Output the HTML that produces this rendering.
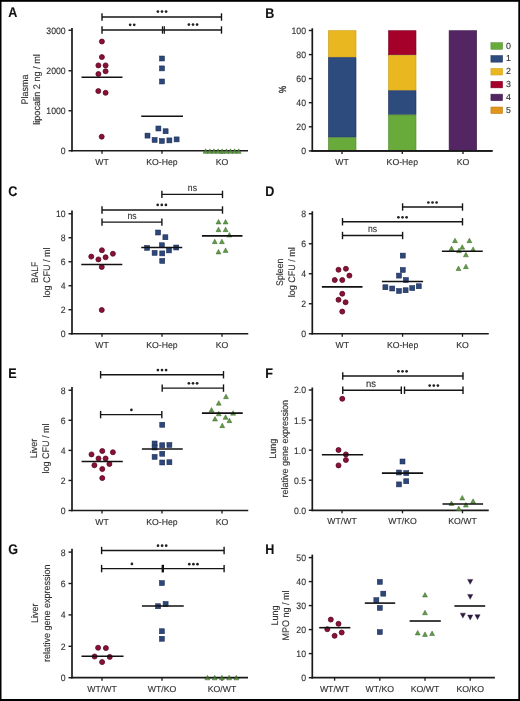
<!DOCTYPE html>
<html><head><meta charset="utf-8"><title>Figure</title>
<style>
html,body{margin:0;padding:0;background:#fff;}
body{width:520px;height:701px;overflow:hidden;}
svg{display:block;will-change:transform;}
text{font-family:"Liberation Sans", sans-serif;text-rendering:geometricPrecision;}
</style></head>
<body>
<svg width="520" height="701" viewBox="0 0 520 701">
<rect x="0" y="0" width="520" height="701" fill="#fff"/>
<text x="8.3" y="17.4" font-size="14.0" font-weight="bold" textLength="9.1" lengthAdjust="spacingAndGlyphs" fill="#111" stroke="#111" stroke-width="0.1">A</text>
<line x1="72" y1="28" x2="72" y2="151.6" stroke="#1a1a1a" stroke-width="1.7"/>
<line x1="71.15" y1="150.75" x2="248" y2="150.75" stroke="#1a1a1a" stroke-width="1.7"/>
<line x1="68.5" y1="30.25" x2="72" y2="30.25" stroke="#1a1a1a" stroke-width="1.4"/>
<text x="65.7" y="33.65" font-size="9.4" text-anchor="end" fill="#303030" stroke="#303030" stroke-width="0.12" textLength="19.35" lengthAdjust="spacingAndGlyphs">3000</text>
<line x1="68.5" y1="70.75" x2="72" y2="70.75" stroke="#1a1a1a" stroke-width="1.4"/>
<text x="65.7" y="74.15" font-size="9.4" text-anchor="end" fill="#303030" stroke="#303030" stroke-width="0.12" textLength="19.35" lengthAdjust="spacingAndGlyphs">2000</text>
<line x1="68.5" y1="110.75" x2="72" y2="110.75" stroke="#1a1a1a" stroke-width="1.4"/>
<text x="65.7" y="114.15" font-size="9.4" text-anchor="end" fill="#303030" stroke="#303030" stroke-width="0.12" textLength="19.35" lengthAdjust="spacingAndGlyphs">1000</text>
<line x1="68.5" y1="150.75" x2="72" y2="150.75" stroke="#1a1a1a" stroke-width="1.4"/>
<text x="65.7" y="154.15" font-size="9.4" text-anchor="end" fill="#303030" stroke="#303030" stroke-width="0.12" textLength="4.84" lengthAdjust="spacingAndGlyphs">0</text>
<line x1="102" y1="150.75" x2="102" y2="153.75" stroke="#1a1a1a" stroke-width="1.3"/>
<text x="102" y="164.85" font-size="8.7" text-anchor="middle" fill="#303030" stroke="#303030" stroke-width="0.12" >WT</text>
<line x1="162" y1="150.75" x2="162" y2="153.75" stroke="#1a1a1a" stroke-width="1.3"/>
<text x="162" y="164.85" font-size="8.7" text-anchor="middle" fill="#303030" stroke="#303030" stroke-width="0.12" >KO-Hep</text>
<line x1="222" y1="150.75" x2="222" y2="153.75" stroke="#1a1a1a" stroke-width="1.3"/>
<text x="222" y="164.85" font-size="8.7" text-anchor="middle" fill="#303030" stroke="#303030" stroke-width="0.12" >KO</text>
<text transform="translate(28 89.5) rotate(-90)" font-size="9.6" textLength="30.01" lengthAdjust="spacingAndGlyphs" text-anchor="middle" fill="#303030" stroke="#303030" stroke-width="0.12">Plasma</text>
<text transform="translate(40 89.5) rotate(-90)" font-size="9.6" textLength="70.6" lengthAdjust="spacingAndGlyphs" text-anchor="middle" fill="#303030" stroke="#303030" stroke-width="0.12">lipocalin 2 ng / ml</text>
<line x1="102" y1="17" x2="221.5" y2="17" stroke="#151515" stroke-width="1.4"/>
<line x1="102" y1="13.3" x2="102" y2="20.7" stroke="#151515" stroke-width="1.4"/>
<line x1="221.5" y1="13.3" x2="221.5" y2="20.7" stroke="#151515" stroke-width="1.4"/>
<circle cx="157.9" cy="11.6" r="1.35" fill="#222"/>
<circle cx="162" cy="11.6" r="1.35" fill="#222"/>
<circle cx="166.1" cy="11.6" r="1.35" fill="#222"/>
<line x1="102" y1="30" x2="221.5" y2="30" stroke="#151515" stroke-width="1.4"/>
<line x1="102" y1="26.3" x2="102" y2="33.7" stroke="#151515" stroke-width="1.4"/>
<line x1="162.5" y1="26.3" x2="162.5" y2="33.7" stroke="#151515" stroke-width="1.3"/>
<line x1="164.3" y1="26.3" x2="164.3" y2="33.7" stroke="#151515" stroke-width="1.3"/>
<line x1="221.5" y1="26.3" x2="221.5" y2="33.7" stroke="#151515" stroke-width="1.4"/>
<circle cx="130.15" cy="24.8" r="1.35" fill="#222"/>
<circle cx="134.25" cy="24.8" r="1.35" fill="#222"/>
<circle cx="188.9" cy="24.6" r="1.35" fill="#222"/>
<circle cx="193" cy="24.6" r="1.35" fill="#222"/>
<circle cx="197.1" cy="24.6" r="1.35" fill="#222"/>
<circle cx="101.9" cy="41.5" r="2.5" fill="#881236" stroke="#5c0522" stroke-width="0.8"/>
<circle cx="101.9" cy="57.1" r="2.5" fill="#881236" stroke="#5c0522" stroke-width="0.8"/>
<circle cx="98.4" cy="65.4" r="2.5" fill="#881236" stroke="#5c0522" stroke-width="0.8"/>
<circle cx="105.6" cy="65.4" r="2.5" fill="#881236" stroke="#5c0522" stroke-width="0.8"/>
<circle cx="105.6" cy="71.25" r="2.5" fill="#881236" stroke="#5c0522" stroke-width="0.8"/>
<circle cx="98.4" cy="74" r="2.5" fill="#881236" stroke="#5c0522" stroke-width="0.8"/>
<circle cx="98.3" cy="91.1" r="2.5" fill="#881236" stroke="#5c0522" stroke-width="0.8"/>
<circle cx="105.6" cy="92.8" r="2.5" fill="#881236" stroke="#5c0522" stroke-width="0.8"/>
<circle cx="101.7" cy="136.7" r="2.5" fill="#881236" stroke="#5c0522" stroke-width="0.8"/>
<line x1="81.5" y1="77.25" x2="122.5" y2="77.25" stroke="#111" stroke-width="1.6"/>
<rect x="159.5" y="56" width="5.0" height="5.0" fill="#2d4779" stroke="#17254f" stroke-width="0.5"/>
<rect x="159.5" y="65.9" width="5.0" height="5.0" fill="#2d4779" stroke="#17254f" stroke-width="0.5"/>
<rect x="159.5" y="79" width="5.0" height="5.0" fill="#2d4779" stroke="#17254f" stroke-width="0.5"/>
<rect x="155.9" y="126" width="5.0" height="5.0" fill="#2d4779" stroke="#17254f" stroke-width="0.5"/>
<rect x="163.1" y="128.75" width="5.0" height="5.0" fill="#2d4779" stroke="#17254f" stroke-width="0.5"/>
<rect x="145" y="133.1" width="5.0" height="5.0" fill="#2d4779" stroke="#17254f" stroke-width="0.5"/>
<rect x="152.1" y="137.5" width="5.0" height="5.0" fill="#2d4779" stroke="#17254f" stroke-width="0.5"/>
<rect x="159.4" y="138.5" width="5.0" height="5.0" fill="#2d4779" stroke="#17254f" stroke-width="0.5"/>
<rect x="166.9" y="137.9" width="5.0" height="5.0" fill="#2d4779" stroke="#17254f" stroke-width="0.5"/>
<rect x="174.1" y="136.9" width="5.0" height="5.0" fill="#2d4779" stroke="#17254f" stroke-width="0.5"/>
<line x1="141.25" y1="116.25" x2="183" y2="116.25" stroke="#111" stroke-width="1.6"/>
<path d="M205.6 148.85 L208.05 153.35 L203.15 153.35 Z" fill="#5f9c46" stroke="#3b6529" stroke-width="0.5"/>
<path d="M209.8 148.85 L212.25 153.35 L207.35 153.35 Z" fill="#5f9c46" stroke="#3b6529" stroke-width="0.5"/>
<path d="M213.9 148.85 L216.35 153.35 L211.45 153.35 Z" fill="#5f9c46" stroke="#3b6529" stroke-width="0.5"/>
<path d="M218.1 148.85 L220.55 153.35 L215.65 153.35 Z" fill="#5f9c46" stroke="#3b6529" stroke-width="0.5"/>
<path d="M222.2 148.85 L224.65 153.35 L219.75 153.35 Z" fill="#5f9c46" stroke="#3b6529" stroke-width="0.5"/>
<path d="M226.4 148.85 L228.85 153.35 L223.95 153.35 Z" fill="#5f9c46" stroke="#3b6529" stroke-width="0.5"/>
<path d="M230.5 148.85 L232.95 153.35 L228.05 153.35 Z" fill="#5f9c46" stroke="#3b6529" stroke-width="0.5"/>
<path d="M234.6 148.85 L237.05 153.35 L232.15 153.35 Z" fill="#5f9c46" stroke="#3b6529" stroke-width="0.5"/>
<path d="M238.7 148.85 L241.15 153.35 L236.25 153.35 Z" fill="#5f9c46" stroke="#3b6529" stroke-width="0.5"/>
<line x1="203" y1="150.9" x2="241" y2="150.9" stroke="#111" stroke-width="1.2" opacity="0.3"/>
<text x="265.2" y="17.6" font-size="14.0" font-weight="bold" textLength="9.1" lengthAdjust="spacingAndGlyphs" fill="#111" stroke="#111" stroke-width="0.1">B</text>
<line x1="312.3" y1="28.25" x2="312.3" y2="151.75" stroke="#1a1a1a" stroke-width="1.7"/>
<line x1="311.45" y1="150.9" x2="492.5" y2="150.9" stroke="#1a1a1a" stroke-width="1.7"/>
<line x1="308.8" y1="30.5" x2="312.3" y2="30.5" stroke="#1a1a1a" stroke-width="1.4"/>
<text x="306" y="33.9" font-size="9.4" text-anchor="end" fill="#303030" stroke="#303030" stroke-width="0.12" textLength="14.52" lengthAdjust="spacingAndGlyphs">100</text>
<line x1="308.8" y1="54.6" x2="312.3" y2="54.6" stroke="#1a1a1a" stroke-width="1.4"/>
<text x="306" y="58" font-size="9.4" text-anchor="end" fill="#303030" stroke="#303030" stroke-width="0.12" textLength="9.68" lengthAdjust="spacingAndGlyphs">80</text>
<line x1="308.8" y1="78.6" x2="312.3" y2="78.6" stroke="#1a1a1a" stroke-width="1.4"/>
<text x="306" y="82" font-size="9.4" text-anchor="end" fill="#303030" stroke="#303030" stroke-width="0.12" textLength="9.68" lengthAdjust="spacingAndGlyphs">60</text>
<line x1="308.8" y1="102.7" x2="312.3" y2="102.7" stroke="#1a1a1a" stroke-width="1.4"/>
<text x="306" y="106.1" font-size="9.4" text-anchor="end" fill="#303030" stroke="#303030" stroke-width="0.12" textLength="9.68" lengthAdjust="spacingAndGlyphs">40</text>
<line x1="308.8" y1="126.8" x2="312.3" y2="126.8" stroke="#1a1a1a" stroke-width="1.4"/>
<text x="306" y="130.2" font-size="9.4" text-anchor="end" fill="#303030" stroke="#303030" stroke-width="0.12" textLength="9.68" lengthAdjust="spacingAndGlyphs">20</text>
<line x1="308.8" y1="150.9" x2="312.3" y2="150.9" stroke="#1a1a1a" stroke-width="1.4"/>
<text x="306" y="154.3" font-size="9.4" text-anchor="end" fill="#303030" stroke="#303030" stroke-width="0.12" textLength="4.84" lengthAdjust="spacingAndGlyphs">0</text>
<line x1="342" y1="150.9" x2="342" y2="153.9" stroke="#1a1a1a" stroke-width="1.3"/>
<text x="342" y="165" font-size="8.7" text-anchor="middle" fill="#303030" stroke="#303030" stroke-width="0.12" >WT</text>
<line x1="402.3" y1="150.9" x2="402.3" y2="153.9" stroke="#1a1a1a" stroke-width="1.3"/>
<text x="402.3" y="165" font-size="8.7" text-anchor="middle" fill="#303030" stroke="#303030" stroke-width="0.12" >KO-Hep</text>
<line x1="463" y1="150.9" x2="463" y2="153.9" stroke="#1a1a1a" stroke-width="1.3"/>
<text x="463" y="165" font-size="8.7" text-anchor="middle" fill="#303030" stroke="#303030" stroke-width="0.12" >KO</text>
<text transform="translate(286.2 89.3) rotate(-90)" font-size="10.3" textLength="7.2" lengthAdjust="spacingAndGlyphs" text-anchor="middle" fill="#303030" stroke="#303030" stroke-width="0.3">%</text>
<rect x="328.4" y="30.7" width="27.6" height="26.4" fill="#e9b820" stroke="#c99a10" stroke-width="0.6"/>
<rect x="328.4" y="57.7" width="27.6" height="79.5" fill="#2d4b7d" stroke="#1c2f55" stroke-width="0.6"/>
<rect x="328.4" y="137.8" width="27.6" height="12.8" fill="#69ab3b" stroke="#4f8a2c" stroke-width="0.6"/>
<rect x="388.5" y="30.7" width="27.5" height="24" fill="#a5002a" stroke="#7a0020" stroke-width="0.6"/>
<rect x="388.5" y="55.3" width="27.5" height="34.9" fill="#e9b820" stroke="#c99a10" stroke-width="0.6"/>
<rect x="388.5" y="90.8" width="27.5" height="23.6" fill="#2d4b7d" stroke="#1c2f55" stroke-width="0.6"/>
<rect x="388.5" y="115" width="27.5" height="35.6" fill="#69ab3b" stroke="#4f8a2c" stroke-width="0.6"/>
<rect x="449.1" y="30.7" width="27.6" height="119.9" fill="#532563" stroke="#3e1a4c" stroke-width="0.6"/>
<line x1="311.45" y1="150.9" x2="492.5" y2="150.9" stroke="#1a1a1a" stroke-width="1.7"/>
<rect x="490.9" y="42.7" width="11.7" height="6.6" fill="#69ab3b" stroke="#4f8a2c" stroke-width="0.5"/>
<text x="506" y="48.6" font-size="8.8" text-anchor="start" fill="#303030" stroke="#303030" stroke-width="0.12" >0</text>
<rect x="490.9" y="55.56" width="11.7" height="6.6" fill="#2d4b7d" stroke="#1c2f55" stroke-width="0.5"/>
<text x="506" y="61.46" font-size="8.8" text-anchor="start" fill="#303030" stroke="#303030" stroke-width="0.12" >1</text>
<rect x="490.9" y="68.42" width="11.7" height="6.6" fill="#e9b820" stroke="#c99a10" stroke-width="0.5"/>
<text x="506" y="74.32" font-size="8.8" text-anchor="start" fill="#303030" stroke="#303030" stroke-width="0.12" >2</text>
<rect x="490.9" y="81.28" width="11.7" height="6.6" fill="#a5002a" stroke="#7a0020" stroke-width="0.5"/>
<text x="506" y="87.18" font-size="8.8" text-anchor="start" fill="#303030" stroke="#303030" stroke-width="0.12" >3</text>
<rect x="490.9" y="94.14" width="11.7" height="6.6" fill="#532563" stroke="#3e1a4c" stroke-width="0.5"/>
<text x="506" y="100.04" font-size="8.8" text-anchor="start" fill="#303030" stroke="#303030" stroke-width="0.12" >4</text>
<rect x="490.9" y="107" width="11.7" height="6.6" fill="#e0961a" stroke="#b87510" stroke-width="0.5"/>
<text x="506" y="112.9" font-size="8.8" text-anchor="start" fill="#303030" stroke="#303030" stroke-width="0.12" >5</text>
<text x="8.3" y="195.6" font-size="14.0" font-weight="bold" textLength="9.1" lengthAdjust="spacingAndGlyphs" fill="#111" stroke="#111" stroke-width="0.1">C</text>
<line x1="72" y1="210.6" x2="72" y2="334.6" stroke="#1a1a1a" stroke-width="1.7"/>
<line x1="71.15" y1="333.75" x2="248.25" y2="333.75" stroke="#1a1a1a" stroke-width="1.7"/>
<line x1="68.5" y1="213.75" x2="72" y2="213.75" stroke="#1a1a1a" stroke-width="1.4"/>
<text x="65.7" y="217.15" font-size="9.4" text-anchor="end" fill="#303030" stroke="#303030" stroke-width="0.12" textLength="9.68" lengthAdjust="spacingAndGlyphs">10</text>
<line x1="68.5" y1="237.75" x2="72" y2="237.75" stroke="#1a1a1a" stroke-width="1.4"/>
<text x="65.7" y="241.15" font-size="9.4" text-anchor="end" fill="#303030" stroke="#303030" stroke-width="0.12" textLength="4.84" lengthAdjust="spacingAndGlyphs">8</text>
<line x1="68.5" y1="261.75" x2="72" y2="261.75" stroke="#1a1a1a" stroke-width="1.4"/>
<text x="65.7" y="265.15" font-size="9.4" text-anchor="end" fill="#303030" stroke="#303030" stroke-width="0.12" textLength="4.84" lengthAdjust="spacingAndGlyphs">6</text>
<line x1="68.5" y1="285.75" x2="72" y2="285.75" stroke="#1a1a1a" stroke-width="1.4"/>
<text x="65.7" y="289.15" font-size="9.4" text-anchor="end" fill="#303030" stroke="#303030" stroke-width="0.12" textLength="4.84" lengthAdjust="spacingAndGlyphs">4</text>
<line x1="68.5" y1="309.75" x2="72" y2="309.75" stroke="#1a1a1a" stroke-width="1.4"/>
<text x="65.7" y="313.15" font-size="9.4" text-anchor="end" fill="#303030" stroke="#303030" stroke-width="0.12" textLength="4.84" lengthAdjust="spacingAndGlyphs">2</text>
<line x1="68.5" y1="333.75" x2="72" y2="333.75" stroke="#1a1a1a" stroke-width="1.4"/>
<text x="65.7" y="337.15" font-size="9.4" text-anchor="end" fill="#303030" stroke="#303030" stroke-width="0.12" textLength="4.84" lengthAdjust="spacingAndGlyphs">0</text>
<line x1="102" y1="333.75" x2="102" y2="336.75" stroke="#1a1a1a" stroke-width="1.3"/>
<text x="102" y="347.85" font-size="8.7" text-anchor="middle" fill="#303030" stroke="#303030" stroke-width="0.12" >WT</text>
<line x1="162" y1="333.75" x2="162" y2="336.75" stroke="#1a1a1a" stroke-width="1.3"/>
<text x="162" y="347.85" font-size="8.7" text-anchor="middle" fill="#303030" stroke="#303030" stroke-width="0.12" >KO-Hep</text>
<line x1="222" y1="333.75" x2="222" y2="336.75" stroke="#1a1a1a" stroke-width="1.3"/>
<text x="222" y="347.85" font-size="8.7" text-anchor="middle" fill="#303030" stroke="#303030" stroke-width="0.12" >KO</text>
<text transform="translate(38 272.5) rotate(-90)" font-size="9.6" textLength="21.2" lengthAdjust="spacingAndGlyphs" text-anchor="middle" fill="#303030" stroke="#303030" stroke-width="0.12">BALF</text>
<text transform="translate(50.4 272.5) rotate(-90)" font-size="9.6" textLength="50.01" lengthAdjust="spacingAndGlyphs" text-anchor="middle" fill="#303030" stroke="#303030" stroke-width="0.12">log CFU / ml</text>
<line x1="161.9" y1="194.4" x2="222.5" y2="194.4" stroke="#151515" stroke-width="1.4"/>
<line x1="161.9" y1="190.7" x2="161.9" y2="198.1" stroke="#151515" stroke-width="1.4"/>
<line x1="222.5" y1="190.7" x2="222.5" y2="198.1" stroke="#151515" stroke-width="1.4"/>
<text x="192.4" y="191.3" font-size="9.8" text-anchor="middle" fill="#303030" stroke="#303030" stroke-width="0.12" textLength="9.1" lengthAdjust="spacingAndGlyphs">ns</text>
<line x1="102" y1="210" x2="222.5" y2="210" stroke="#151515" stroke-width="1.4"/>
<line x1="102" y1="206.3" x2="102" y2="213.7" stroke="#151515" stroke-width="1.4"/>
<line x1="222.5" y1="206.3" x2="222.5" y2="213.7" stroke="#151515" stroke-width="1.4"/>
<circle cx="157.7" cy="204.9" r="1.35" fill="#222"/>
<circle cx="161.8" cy="204.9" r="1.35" fill="#222"/>
<circle cx="165.9" cy="204.9" r="1.35" fill="#222"/>
<line x1="102" y1="222.1" x2="161.9" y2="222.1" stroke="#151515" stroke-width="1.4"/>
<line x1="102" y1="218.4" x2="102" y2="225.8" stroke="#151515" stroke-width="1.4"/>
<line x1="161.9" y1="218.4" x2="161.9" y2="225.8" stroke="#151515" stroke-width="1.4"/>
<text x="132.1" y="218.6" font-size="9.8" text-anchor="middle" fill="#303030" stroke="#303030" stroke-width="0.12" textLength="9.1" lengthAdjust="spacingAndGlyphs">ns</text>
<circle cx="101.9" cy="250.25" r="2.5" fill="#881236" stroke="#5c0522" stroke-width="0.8"/>
<circle cx="91.25" cy="256.6" r="2.5" fill="#881236" stroke="#5c0522" stroke-width="0.8"/>
<circle cx="98.4" cy="259.4" r="2.5" fill="#881236" stroke="#5c0522" stroke-width="0.8"/>
<circle cx="105.6" cy="257.25" r="2.5" fill="#881236" stroke="#5c0522" stroke-width="0.8"/>
<circle cx="112.9" cy="253.75" r="2.5" fill="#881236" stroke="#5c0522" stroke-width="0.8"/>
<circle cx="101.75" cy="267" r="2.5" fill="#881236" stroke="#5c0522" stroke-width="0.8"/>
<circle cx="101.75" cy="310" r="2.5" fill="#881236" stroke="#5c0522" stroke-width="0.8"/>
<line x1="81.25" y1="264.5" x2="122.3" y2="264.5" stroke="#111" stroke-width="1.6"/>
<rect x="155.6" y="230" width="5.0" height="5.0" fill="#2d4779" stroke="#17254f" stroke-width="0.5"/>
<rect x="162.9" y="234.75" width="5.0" height="5.0" fill="#2d4779" stroke="#17254f" stroke-width="0.5"/>
<rect x="159.4" y="242.75" width="5.0" height="5.0" fill="#2d4779" stroke="#17254f" stroke-width="0.5"/>
<rect x="144.6" y="245.4" width="5.0" height="5.0" fill="#2d4779" stroke="#17254f" stroke-width="0.5"/>
<rect x="173.75" y="245" width="5.0" height="5.0" fill="#2d4779" stroke="#17254f" stroke-width="0.5"/>
<rect x="152.1" y="250.4" width="5.0" height="5.0" fill="#2d4779" stroke="#17254f" stroke-width="0.5"/>
<rect x="166.5" y="247.9" width="5.0" height="5.0" fill="#2d4779" stroke="#17254f" stroke-width="0.5"/>
<rect x="159.75" y="250.9" width="5.0" height="5.0" fill="#2d4779" stroke="#17254f" stroke-width="0.5"/>
<rect x="159.75" y="258.4" width="5.0" height="5.0" fill="#2d4779" stroke="#17254f" stroke-width="0.5"/>
<line x1="141.25" y1="247.5" x2="182.25" y2="247.5" stroke="#111" stroke-width="1.6"/>
<path d="M218.5 219.45 L220.95 223.95 L216.05 223.95 Z" fill="#5f9c46" stroke="#3b6529" stroke-width="0.5"/>
<path d="M225.6 219.45 L228.05 223.95 L223.15 223.95 Z" fill="#5f9c46" stroke="#3b6529" stroke-width="0.5"/>
<path d="M218.5 227.15 L220.95 231.65 L216.05 231.65 Z" fill="#5f9c46" stroke="#3b6529" stroke-width="0.5"/>
<path d="M225.6 227.15 L228.05 231.65 L223.15 231.65 Z" fill="#5f9c46" stroke="#3b6529" stroke-width="0.5"/>
<path d="M229.4 232.55 L231.85 237.05 L226.95 237.05 Z" fill="#5f9c46" stroke="#3b6529" stroke-width="0.5"/>
<path d="M214.75 239.15 L217.2 243.65 L212.3 243.65 Z" fill="#5f9c46" stroke="#3b6529" stroke-width="0.5"/>
<path d="M221.9 239.15 L224.35 243.65 L219.45 243.65 Z" fill="#5f9c46" stroke="#3b6529" stroke-width="0.5"/>
<path d="M218.5 249.45 L220.95 253.95 L216.05 253.95 Z" fill="#5f9c46" stroke="#3b6529" stroke-width="0.5"/>
<path d="M225.6 247.95 L228.05 252.45 L223.15 252.45 Z" fill="#5f9c46" stroke="#3b6529" stroke-width="0.5"/>
<line x1="201.9" y1="235.9" x2="242.5" y2="235.9" stroke="#111" stroke-width="1.6"/>
<text x="265.2" y="195.6" font-size="14.0" font-weight="bold" textLength="9.1" lengthAdjust="spacingAndGlyphs" fill="#111" stroke="#111" stroke-width="0.1">D</text>
<line x1="312.3" y1="211.25" x2="312.3" y2="334.6" stroke="#1a1a1a" stroke-width="1.7"/>
<line x1="311.45" y1="333.75" x2="488.75" y2="333.75" stroke="#1a1a1a" stroke-width="1.7"/>
<line x1="308.8" y1="213.75" x2="312.3" y2="213.75" stroke="#1a1a1a" stroke-width="1.4"/>
<text x="306" y="217.15" font-size="9.4" text-anchor="end" fill="#303030" stroke="#303030" stroke-width="0.12" textLength="4.84" lengthAdjust="spacingAndGlyphs">8</text>
<line x1="308.8" y1="243.75" x2="312.3" y2="243.75" stroke="#1a1a1a" stroke-width="1.4"/>
<text x="306" y="247.15" font-size="9.4" text-anchor="end" fill="#303030" stroke="#303030" stroke-width="0.12" textLength="4.84" lengthAdjust="spacingAndGlyphs">6</text>
<line x1="308.8" y1="273.75" x2="312.3" y2="273.75" stroke="#1a1a1a" stroke-width="1.4"/>
<text x="306" y="277.15" font-size="9.4" text-anchor="end" fill="#303030" stroke="#303030" stroke-width="0.12" textLength="4.84" lengthAdjust="spacingAndGlyphs">4</text>
<line x1="308.8" y1="303.75" x2="312.3" y2="303.75" stroke="#1a1a1a" stroke-width="1.4"/>
<text x="306" y="307.15" font-size="9.4" text-anchor="end" fill="#303030" stroke="#303030" stroke-width="0.12" textLength="4.84" lengthAdjust="spacingAndGlyphs">2</text>
<line x1="308.8" y1="333.75" x2="312.3" y2="333.75" stroke="#1a1a1a" stroke-width="1.4"/>
<text x="306" y="337.15" font-size="9.4" text-anchor="end" fill="#303030" stroke="#303030" stroke-width="0.12" textLength="4.84" lengthAdjust="spacingAndGlyphs">0</text>
<line x1="342.25" y1="333.75" x2="342.25" y2="336.75" stroke="#1a1a1a" stroke-width="1.3"/>
<text x="342.25" y="347.85" font-size="8.7" text-anchor="middle" fill="#303030" stroke="#303030" stroke-width="0.12" >WT</text>
<line x1="402.6" y1="333.75" x2="402.6" y2="336.75" stroke="#1a1a1a" stroke-width="1.3"/>
<text x="402.6" y="347.85" font-size="8.7" text-anchor="middle" fill="#303030" stroke="#303030" stroke-width="0.12" >KO-Hep</text>
<line x1="462.5" y1="333.75" x2="462.5" y2="336.75" stroke="#1a1a1a" stroke-width="1.3"/>
<text x="462.5" y="347.85" font-size="8.7" text-anchor="middle" fill="#303030" stroke="#303030" stroke-width="0.12" >KO</text>
<text transform="translate(282.5 272.2) rotate(-90)" font-size="9.6" textLength="27.4" lengthAdjust="spacingAndGlyphs" text-anchor="middle" fill="#303030" stroke="#303030" stroke-width="0.12">Spleen</text>
<text transform="translate(294.5 272.2) rotate(-90)" font-size="9.6" textLength="50.01" lengthAdjust="spacingAndGlyphs" text-anchor="middle" fill="#303030" stroke="#303030" stroke-width="0.12">log CFU / ml</text>
<line x1="402.6" y1="207" x2="462.5" y2="207" stroke="#151515" stroke-width="1.4"/>
<line x1="402.6" y1="203.3" x2="402.6" y2="210.7" stroke="#151515" stroke-width="1.4"/>
<line x1="462.5" y1="203.3" x2="462.5" y2="210.7" stroke="#151515" stroke-width="1.4"/>
<circle cx="428.4" cy="202.5" r="1.35" fill="#222"/>
<circle cx="432.5" cy="202.5" r="1.35" fill="#222"/>
<circle cx="436.6" cy="202.5" r="1.35" fill="#222"/>
<line x1="342.5" y1="221.75" x2="462.5" y2="221.75" stroke="#151515" stroke-width="1.4"/>
<line x1="342.5" y1="218.05" x2="342.5" y2="225.45" stroke="#151515" stroke-width="1.4"/>
<line x1="462.5" y1="218.05" x2="462.5" y2="225.45" stroke="#151515" stroke-width="1.4"/>
<circle cx="398.4" cy="217.3" r="1.35" fill="#222"/>
<circle cx="402.5" cy="217.3" r="1.35" fill="#222"/>
<circle cx="406.6" cy="217.3" r="1.35" fill="#222"/>
<line x1="342.5" y1="235.5" x2="402.6" y2="235.5" stroke="#151515" stroke-width="1.4"/>
<line x1="342.5" y1="231.8" x2="342.5" y2="239.2" stroke="#151515" stroke-width="1.4"/>
<line x1="402.6" y1="231.8" x2="402.6" y2="239.2" stroke="#151515" stroke-width="1.4"/>
<text x="372.5" y="231.5" font-size="9.8" text-anchor="middle" fill="#303030" stroke="#303030" stroke-width="0.12" textLength="9.1" lengthAdjust="spacingAndGlyphs">ns</text>
<circle cx="338.5" cy="269.75" r="2.5" fill="#881236" stroke="#5c0522" stroke-width="0.8"/>
<circle cx="345.9" cy="268.75" r="2.5" fill="#881236" stroke="#5c0522" stroke-width="0.8"/>
<circle cx="349.4" cy="275.6" r="2.5" fill="#881236" stroke="#5c0522" stroke-width="0.8"/>
<circle cx="334.75" cy="280" r="2.5" fill="#881236" stroke="#5c0522" stroke-width="0.8"/>
<circle cx="342.25" cy="280" r="2.5" fill="#881236" stroke="#5c0522" stroke-width="0.8"/>
<circle cx="342.25" cy="293.75" r="2.5" fill="#881236" stroke="#5c0522" stroke-width="0.8"/>
<circle cx="338.5" cy="299.75" r="2.5" fill="#881236" stroke="#5c0522" stroke-width="0.8"/>
<circle cx="345.6" cy="302.25" r="2.5" fill="#881236" stroke="#5c0522" stroke-width="0.8"/>
<circle cx="342.25" cy="311.6" r="2.5" fill="#881236" stroke="#5c0522" stroke-width="0.8"/>
<line x1="321.9" y1="286.9" x2="362.5" y2="286.9" stroke="#111" stroke-width="1.6"/>
<rect x="400.25" y="253.1" width="5.0" height="5.0" fill="#2d4779" stroke="#17254f" stroke-width="0.5"/>
<rect x="400.25" y="267.5" width="5.0" height="5.0" fill="#2d4779" stroke="#17254f" stroke-width="0.5"/>
<rect x="396.5" y="273.1" width="5.0" height="5.0" fill="#2d4779" stroke="#17254f" stroke-width="0.5"/>
<rect x="403.4" y="277.5" width="5.0" height="5.0" fill="#2d4779" stroke="#17254f" stroke-width="0.5"/>
<rect x="382.9" y="284.75" width="5.0" height="5.0" fill="#2d4779" stroke="#17254f" stroke-width="0.5"/>
<rect x="389.75" y="286" width="5.0" height="5.0" fill="#2d4779" stroke="#17254f" stroke-width="0.5"/>
<rect x="396.5" y="288.5" width="5.0" height="5.0" fill="#2d4779" stroke="#17254f" stroke-width="0.5"/>
<rect x="403.1" y="287.75" width="5.0" height="5.0" fill="#2d4779" stroke="#17254f" stroke-width="0.5"/>
<rect x="409.75" y="285.6" width="5.0" height="5.0" fill="#2d4779" stroke="#17254f" stroke-width="0.5"/>
<rect x="416.25" y="283.75" width="5.0" height="5.0" fill="#2d4779" stroke="#17254f" stroke-width="0.5"/>
<line x1="381.9" y1="281.5" x2="423.1" y2="281.5" stroke="#111" stroke-width="1.6"/>
<path d="M455 238.15 L457.45 242.65 L452.55 242.65 Z" fill="#5f9c46" stroke="#3b6529" stroke-width="0.5"/>
<path d="M469.4 238.15 L471.85 242.65 L466.95 242.65 Z" fill="#5f9c46" stroke="#3b6529" stroke-width="0.5"/>
<path d="M462.25 244.65 L464.7 249.15 L459.8 249.15 Z" fill="#5f9c46" stroke="#3b6529" stroke-width="0.5"/>
<path d="M451.5 246.05 L453.95 250.55 L449.05 250.55 Z" fill="#5f9c46" stroke="#3b6529" stroke-width="0.5"/>
<path d="M473.1 246.95 L475.55 251.45 L470.65 251.45 Z" fill="#5f9c46" stroke="#3b6529" stroke-width="0.5"/>
<path d="M459 248.15 L461.45 252.65 L456.55 252.65 Z" fill="#5f9c46" stroke="#3b6529" stroke-width="0.5"/>
<path d="M465.9 252.3 L468.35 256.8 L463.45 256.8 Z" fill="#5f9c46" stroke="#3b6529" stroke-width="0.5"/>
<path d="M458.5 266.05 L460.95 270.55 L456.05 270.55 Z" fill="#5f9c46" stroke="#3b6529" stroke-width="0.5"/>
<path d="M465.9 264.15 L468.35 268.65 L463.45 268.65 Z" fill="#5f9c46" stroke="#3b6529" stroke-width="0.5"/>
<line x1="441.9" y1="251.25" x2="482.75" y2="251.25" stroke="#111" stroke-width="1.6"/>
<text x="8.3" y="378.2" font-size="14.0" font-weight="bold" textLength="8.4" lengthAdjust="spacingAndGlyphs" fill="#111" stroke="#111" stroke-width="0.1">E</text>
<line x1="72" y1="386.9" x2="72" y2="511.35" stroke="#1a1a1a" stroke-width="1.7"/>
<line x1="71.15" y1="510.5" x2="248.25" y2="510.5" stroke="#1a1a1a" stroke-width="1.7"/>
<line x1="68.5" y1="390.25" x2="72" y2="390.25" stroke="#1a1a1a" stroke-width="1.4"/>
<text x="65.7" y="393.65" font-size="9.4" text-anchor="end" fill="#303030" stroke="#303030" stroke-width="0.12" textLength="4.84" lengthAdjust="spacingAndGlyphs">8</text>
<line x1="68.5" y1="420.3" x2="72" y2="420.3" stroke="#1a1a1a" stroke-width="1.4"/>
<text x="65.7" y="423.7" font-size="9.4" text-anchor="end" fill="#303030" stroke="#303030" stroke-width="0.12" textLength="4.84" lengthAdjust="spacingAndGlyphs">6</text>
<line x1="68.5" y1="450.4" x2="72" y2="450.4" stroke="#1a1a1a" stroke-width="1.4"/>
<text x="65.7" y="453.8" font-size="9.4" text-anchor="end" fill="#303030" stroke="#303030" stroke-width="0.12" textLength="4.84" lengthAdjust="spacingAndGlyphs">4</text>
<line x1="68.5" y1="480.45" x2="72" y2="480.45" stroke="#1a1a1a" stroke-width="1.4"/>
<text x="65.7" y="483.85" font-size="9.4" text-anchor="end" fill="#303030" stroke="#303030" stroke-width="0.12" textLength="4.84" lengthAdjust="spacingAndGlyphs">2</text>
<line x1="68.5" y1="510.5" x2="72" y2="510.5" stroke="#1a1a1a" stroke-width="1.4"/>
<text x="65.7" y="513.9" font-size="9.4" text-anchor="end" fill="#303030" stroke="#303030" stroke-width="0.12" textLength="4.84" lengthAdjust="spacingAndGlyphs">0</text>
<line x1="102" y1="510.5" x2="102" y2="513.5" stroke="#1a1a1a" stroke-width="1.3"/>
<text x="102" y="524.6" font-size="8.7" text-anchor="middle" fill="#303030" stroke="#303030" stroke-width="0.12" >WT</text>
<line x1="162" y1="510.5" x2="162" y2="513.5" stroke="#1a1a1a" stroke-width="1.3"/>
<text x="162" y="524.6" font-size="8.7" text-anchor="middle" fill="#303030" stroke="#303030" stroke-width="0.12" >KO-Hep</text>
<line x1="222" y1="510.5" x2="222" y2="513.5" stroke="#1a1a1a" stroke-width="1.3"/>
<text x="222" y="524.6" font-size="8.7" text-anchor="middle" fill="#303030" stroke="#303030" stroke-width="0.12" >KO</text>
<text transform="translate(37.4 448.5) rotate(-90)" font-size="9.6" textLength="19.51" lengthAdjust="spacingAndGlyphs" text-anchor="middle" fill="#303030" stroke="#303030" stroke-width="0.12">Liver</text>
<text transform="translate(49.4 448.5) rotate(-90)" font-size="9.6" textLength="50.01" lengthAdjust="spacingAndGlyphs" text-anchor="middle" fill="#303030" stroke="#303030" stroke-width="0.12">log CFU / ml</text>
<line x1="100.6" y1="374.75" x2="223.5" y2="374.75" stroke="#151515" stroke-width="1.4"/>
<line x1="100.6" y1="371.05" x2="100.6" y2="378.45" stroke="#151515" stroke-width="1.4"/>
<line x1="223.5" y1="371.05" x2="223.5" y2="378.45" stroke="#151515" stroke-width="1.4"/>
<circle cx="157.9" cy="370.1" r="1.35" fill="#222"/>
<circle cx="162" cy="370.1" r="1.35" fill="#222"/>
<circle cx="166.1" cy="370.1" r="1.35" fill="#222"/>
<line x1="162.2" y1="388.1" x2="223.5" y2="388.1" stroke="#151515" stroke-width="1.4"/>
<line x1="162.2" y1="384.4" x2="162.2" y2="391.8" stroke="#151515" stroke-width="1.4"/>
<line x1="223.5" y1="384.4" x2="223.5" y2="391.8" stroke="#151515" stroke-width="1.4"/>
<circle cx="188.9" cy="383.3" r="1.35" fill="#222"/>
<circle cx="193" cy="383.3" r="1.35" fill="#222"/>
<circle cx="197.1" cy="383.3" r="1.35" fill="#222"/>
<line x1="100.6" y1="414.6" x2="161.8" y2="414.6" stroke="#151515" stroke-width="1.4"/>
<line x1="100.6" y1="410.9" x2="100.6" y2="418.3" stroke="#151515" stroke-width="1.4"/>
<line x1="161.8" y1="410.9" x2="161.8" y2="418.3" stroke="#151515" stroke-width="1.4"/>
<circle cx="131.4" cy="409.9" r="1.35" fill="#222"/>
<circle cx="102.25" cy="451" r="2.5" fill="#881236" stroke="#5c0522" stroke-width="0.8"/>
<circle cx="91.5" cy="454.4" r="2.5" fill="#881236" stroke="#5c0522" stroke-width="0.8"/>
<circle cx="112.9" cy="452.25" r="2.5" fill="#881236" stroke="#5c0522" stroke-width="0.8"/>
<circle cx="98.5" cy="458.5" r="2.5" fill="#881236" stroke="#5c0522" stroke-width="0.8"/>
<circle cx="105.6" cy="458.5" r="2.5" fill="#881236" stroke="#5c0522" stroke-width="0.8"/>
<circle cx="94.4" cy="465.25" r="2.5" fill="#881236" stroke="#5c0522" stroke-width="0.8"/>
<circle cx="109.4" cy="464" r="2.5" fill="#881236" stroke="#5c0522" stroke-width="0.8"/>
<circle cx="102.25" cy="469" r="2.5" fill="#881236" stroke="#5c0522" stroke-width="0.8"/>
<circle cx="102.25" cy="478.1" r="2.5" fill="#881236" stroke="#5c0522" stroke-width="0.8"/>
<line x1="81.6" y1="461.5" x2="122.75" y2="461.5" stroke="#111" stroke-width="1.6"/>
<rect x="159.75" y="422.25" width="5.0" height="5.0" fill="#2d4779" stroke="#17254f" stroke-width="0.5"/>
<rect x="152.1" y="441" width="5.0" height="5.0" fill="#2d4779" stroke="#17254f" stroke-width="0.5"/>
<rect x="152.1" y="445" width="5.0" height="5.0" fill="#2d4779" stroke="#17254f" stroke-width="0.5"/>
<rect x="159.75" y="442.75" width="5.0" height="5.0" fill="#2d4779" stroke="#17254f" stroke-width="0.5"/>
<rect x="166.9" y="442.5" width="5.0" height="5.0" fill="#2d4779" stroke="#17254f" stroke-width="0.5"/>
<rect x="159.75" y="451.25" width="5.0" height="5.0" fill="#2d4779" stroke="#17254f" stroke-width="0.5"/>
<rect x="152.1" y="454.4" width="5.0" height="5.0" fill="#2d4779" stroke="#17254f" stroke-width="0.5"/>
<rect x="159.75" y="460" width="5.0" height="5.0" fill="#2d4779" stroke="#17254f" stroke-width="0.5"/>
<rect x="166.9" y="459.75" width="5.0" height="5.0" fill="#2d4779" stroke="#17254f" stroke-width="0.5"/>
<line x1="141.9" y1="449" x2="182.75" y2="449" stroke="#111" stroke-width="1.6"/>
<path d="M226 394.15 L228.45 398.65 L223.55 398.65 Z" fill="#5f9c46" stroke="#3b6529" stroke-width="0.5"/>
<path d="M218.75 400.65 L221.2 405.15 L216.3 405.15 Z" fill="#5f9c46" stroke="#3b6529" stroke-width="0.5"/>
<path d="M211.5 407.55 L213.95 412.05 L209.05 412.05 Z" fill="#5f9c46" stroke="#3b6529" stroke-width="0.5"/>
<path d="M218.75 411.3 L221.2 415.8 L216.3 415.8 Z" fill="#5f9c46" stroke="#3b6529" stroke-width="0.5"/>
<path d="M233.1 410.65 L235.55 415.15 L230.65 415.15 Z" fill="#5f9c46" stroke="#3b6529" stroke-width="0.5"/>
<path d="M215 416.55 L217.45 421.05 L212.55 421.05 Z" fill="#5f9c46" stroke="#3b6529" stroke-width="0.5"/>
<path d="M225.6 414.8 L228.05 419.3 L223.15 419.3 Z" fill="#5f9c46" stroke="#3b6529" stroke-width="0.5"/>
<path d="M229.4 418.15 L231.85 422.65 L226.95 422.65 Z" fill="#5f9c46" stroke="#3b6529" stroke-width="0.5"/>
<path d="M222.25 423.15 L224.7 427.65 L219.8 427.65 Z" fill="#5f9c46" stroke="#3b6529" stroke-width="0.5"/>
<line x1="201.9" y1="413.1" x2="242.75" y2="413.1" stroke="#111" stroke-width="1.6"/>
<text x="265.2" y="378.2" font-size="14.0" font-weight="bold" textLength="7.7" lengthAdjust="spacingAndGlyphs" fill="#111" stroke="#111" stroke-width="0.1">F</text>
<line x1="312.3" y1="387.5" x2="312.3" y2="511.15" stroke="#1a1a1a" stroke-width="1.7"/>
<line x1="311.45" y1="510.3" x2="488.75" y2="510.3" stroke="#1a1a1a" stroke-width="1.7"/>
<line x1="308.8" y1="390" x2="312.3" y2="390" stroke="#1a1a1a" stroke-width="1.4"/>
<text x="306" y="393.4" font-size="9.4" text-anchor="end" fill="#303030" stroke="#303030" stroke-width="0.12" textLength="12.09" lengthAdjust="spacingAndGlyphs">2.0</text>
<line x1="308.8" y1="420.1" x2="312.3" y2="420.1" stroke="#1a1a1a" stroke-width="1.4"/>
<text x="306" y="423.5" font-size="9.4" text-anchor="end" fill="#303030" stroke="#303030" stroke-width="0.12" textLength="12.09" lengthAdjust="spacingAndGlyphs">1.5</text>
<line x1="308.8" y1="450.15" x2="312.3" y2="450.15" stroke="#1a1a1a" stroke-width="1.4"/>
<text x="306" y="453.55" font-size="9.4" text-anchor="end" fill="#303030" stroke="#303030" stroke-width="0.12" textLength="12.09" lengthAdjust="spacingAndGlyphs">1.0</text>
<line x1="308.8" y1="480.2" x2="312.3" y2="480.2" stroke="#1a1a1a" stroke-width="1.4"/>
<text x="306" y="483.6" font-size="9.4" text-anchor="end" fill="#303030" stroke="#303030" stroke-width="0.12" textLength="12.09" lengthAdjust="spacingAndGlyphs">0.5</text>
<line x1="308.8" y1="510.3" x2="312.3" y2="510.3" stroke="#1a1a1a" stroke-width="1.4"/>
<text x="306" y="513.7" font-size="9.4" text-anchor="end" fill="#303030" stroke="#303030" stroke-width="0.12" textLength="12.09" lengthAdjust="spacingAndGlyphs">0.0</text>
<line x1="342" y1="510.3" x2="342" y2="513.3" stroke="#1a1a1a" stroke-width="1.3"/>
<text x="342" y="524.4" font-size="8.7" text-anchor="middle" fill="#303030" stroke="#303030" stroke-width="0.12" >WT/WT</text>
<line x1="402.5" y1="510.3" x2="402.5" y2="513.3" stroke="#1a1a1a" stroke-width="1.3"/>
<text x="402.5" y="524.4" font-size="8.7" text-anchor="middle" fill="#303030" stroke="#303030" stroke-width="0.12" >WT/KO</text>
<line x1="462.5" y1="510.3" x2="462.5" y2="513.3" stroke="#1a1a1a" stroke-width="1.3"/>
<text x="462.5" y="524.4" font-size="8.7" text-anchor="middle" fill="#303030" stroke="#303030" stroke-width="0.12" >KO/WT</text>
<text transform="translate(275.9 448.8) rotate(-90)" font-size="9.6" textLength="20.02" lengthAdjust="spacingAndGlyphs" text-anchor="middle" fill="#303030" stroke="#303030" stroke-width="0.12">Lung</text>
<text transform="translate(288 448.8) rotate(-90)" font-size="9.6" textLength="97.56" lengthAdjust="spacingAndGlyphs" text-anchor="middle" fill="#303030" stroke="#303030" stroke-width="0.12">relative gene expression</text>
<line x1="342.75" y1="376" x2="463" y2="376" stroke="#151515" stroke-width="1.4"/>
<line x1="342.75" y1="372.3" x2="342.75" y2="379.7" stroke="#151515" stroke-width="1.4"/>
<line x1="463" y1="372.3" x2="463" y2="379.7" stroke="#151515" stroke-width="1.4"/>
<circle cx="398.4" cy="371.3" r="1.35" fill="#222"/>
<circle cx="402.5" cy="371.3" r="1.35" fill="#222"/>
<circle cx="406.6" cy="371.3" r="1.35" fill="#222"/>
<line x1="342.75" y1="390.2" x2="401.3" y2="390.2" stroke="#151515" stroke-width="1.4"/>
<line x1="404.5" y1="390.2" x2="463" y2="390.2" stroke="#151515" stroke-width="1.4"/>
<line x1="342.75" y1="386.5" x2="342.75" y2="393.9" stroke="#151515" stroke-width="1.4"/>
<line x1="401.3" y1="386.5" x2="401.3" y2="393.9" stroke="#151515" stroke-width="1.4"/>
<line x1="404.5" y1="386.5" x2="404.5" y2="393.9" stroke="#151515" stroke-width="1.4"/>
<line x1="463" y1="386.5" x2="463" y2="393.9" stroke="#151515" stroke-width="1.4"/>
<text x="371.1" y="387" font-size="10.2" text-anchor="middle" fill="#303030" stroke="#303030" stroke-width="0.12" textLength="10.0" lengthAdjust="spacingAndGlyphs">ns</text>
<circle cx="429.7" cy="385.6" r="1.35" fill="#222"/>
<circle cx="433.8" cy="385.6" r="1.35" fill="#222"/>
<circle cx="437.9" cy="385.6" r="1.35" fill="#222"/>
<circle cx="342.25" cy="398.75" r="2.5" fill="#881236" stroke="#5c0522" stroke-width="0.8"/>
<circle cx="338.5" cy="450" r="2.5" fill="#881236" stroke="#5c0522" stroke-width="0.8"/>
<circle cx="345.9" cy="454.4" r="2.5" fill="#881236" stroke="#5c0522" stroke-width="0.8"/>
<circle cx="345.9" cy="460" r="2.5" fill="#881236" stroke="#5c0522" stroke-width="0.8"/>
<circle cx="338.5" cy="465.4" r="2.5" fill="#881236" stroke="#5c0522" stroke-width="0.8"/>
<line x1="321.9" y1="454.75" x2="363.1" y2="454.75" stroke="#111" stroke-width="1.6"/>
<rect x="400" y="459" width="5.0" height="5.0" fill="#2d4779" stroke="#17254f" stroke-width="0.5"/>
<rect x="396.5" y="470" width="5.0" height="5.0" fill="#2d4779" stroke="#17254f" stroke-width="0.5"/>
<rect x="403.75" y="470.6" width="5.0" height="5.0" fill="#2d4779" stroke="#17254f" stroke-width="0.5"/>
<rect x="403.75" y="478.75" width="5.0" height="5.0" fill="#2d4779" stroke="#17254f" stroke-width="0.5"/>
<rect x="396.5" y="481.9" width="5.0" height="5.0" fill="#2d4779" stroke="#17254f" stroke-width="0.5"/>
<line x1="381.9" y1="473.1" x2="423.1" y2="473.1" stroke="#111" stroke-width="1.6"/>
<path d="M462.25 495.45 L464.7 499.95 L459.8 499.95 Z" fill="#5f9c46" stroke="#3b6529" stroke-width="0.5"/>
<path d="M451.5 500.95 L453.95 505.45 L449.05 505.45 Z" fill="#5f9c46" stroke="#3b6529" stroke-width="0.5"/>
<path d="M473.1 498.8 L475.55 503.3 L470.65 503.3 Z" fill="#5f9c46" stroke="#3b6529" stroke-width="0.5"/>
<path d="M465.9 502.55 L468.35 507.05 L463.45 507.05 Z" fill="#5f9c46" stroke="#3b6529" stroke-width="0.5"/>
<path d="M458.75 506.05 L461.2 510.55 L456.3 510.55 Z" fill="#5f9c46" stroke="#3b6529" stroke-width="0.5"/>
<line x1="442.5" y1="504" x2="483.1" y2="504" stroke="#111" stroke-width="1.6"/>
<text x="8.3" y="554.3" font-size="14.0" font-weight="bold" textLength="9.8" lengthAdjust="spacingAndGlyphs" fill="#111" stroke="#111" stroke-width="0.1">G</text>
<line x1="72" y1="548.75" x2="72" y2="678.55" stroke="#1a1a1a" stroke-width="1.7"/>
<line x1="71.15" y1="677.7" x2="248" y2="677.7" stroke="#1a1a1a" stroke-width="1.7"/>
<line x1="68.5" y1="552.1" x2="72" y2="552.1" stroke="#1a1a1a" stroke-width="1.4"/>
<text x="65.7" y="555.5" font-size="9.4" text-anchor="end" fill="#303030" stroke="#303030" stroke-width="0.12" textLength="4.84" lengthAdjust="spacingAndGlyphs">8</text>
<line x1="68.5" y1="583.5" x2="72" y2="583.5" stroke="#1a1a1a" stroke-width="1.4"/>
<text x="65.7" y="586.9" font-size="9.4" text-anchor="end" fill="#303030" stroke="#303030" stroke-width="0.12" textLength="4.84" lengthAdjust="spacingAndGlyphs">6</text>
<line x1="68.5" y1="614.9" x2="72" y2="614.9" stroke="#1a1a1a" stroke-width="1.4"/>
<text x="65.7" y="618.3" font-size="9.4" text-anchor="end" fill="#303030" stroke="#303030" stroke-width="0.12" textLength="4.84" lengthAdjust="spacingAndGlyphs">4</text>
<line x1="68.5" y1="646.3" x2="72" y2="646.3" stroke="#1a1a1a" stroke-width="1.4"/>
<text x="65.7" y="649.7" font-size="9.4" text-anchor="end" fill="#303030" stroke="#303030" stroke-width="0.12" textLength="4.84" lengthAdjust="spacingAndGlyphs">2</text>
<line x1="68.5" y1="677.7" x2="72" y2="677.7" stroke="#1a1a1a" stroke-width="1.4"/>
<text x="65.7" y="681.1" font-size="9.4" text-anchor="end" fill="#303030" stroke="#303030" stroke-width="0.12" textLength="4.84" lengthAdjust="spacingAndGlyphs">0</text>
<line x1="102" y1="677.7" x2="102" y2="680.7" stroke="#1a1a1a" stroke-width="1.3"/>
<text x="102" y="691.8" font-size="8.7" text-anchor="middle" fill="#303030" stroke="#303030" stroke-width="0.12" >WT/WT</text>
<line x1="162" y1="677.7" x2="162" y2="680.7" stroke="#1a1a1a" stroke-width="1.3"/>
<text x="162" y="691.8" font-size="8.7" text-anchor="middle" fill="#303030" stroke="#303030" stroke-width="0.12" >WT/KO</text>
<line x1="222" y1="677.7" x2="222" y2="680.7" stroke="#1a1a1a" stroke-width="1.3"/>
<text x="222" y="691.8" font-size="8.7" text-anchor="middle" fill="#303030" stroke="#303030" stroke-width="0.12" >KO/WT</text>
<text transform="translate(38.3 613.3) rotate(-90)" font-size="9.6" textLength="19.51" lengthAdjust="spacingAndGlyphs" text-anchor="middle" fill="#303030" stroke="#303030" stroke-width="0.12">Liver</text>
<text transform="translate(50.2 613.3) rotate(-90)" font-size="9.6" textLength="97.56" lengthAdjust="spacingAndGlyphs" text-anchor="middle" fill="#303030" stroke="#303030" stroke-width="0.12">relative gene expression</text>
<line x1="101.6" y1="550.5" x2="224.1" y2="550.5" stroke="#151515" stroke-width="1.4"/>
<line x1="101.6" y1="546.8" x2="101.6" y2="554.2" stroke="#151515" stroke-width="1.4"/>
<line x1="224.1" y1="546.8" x2="224.1" y2="554.2" stroke="#151515" stroke-width="1.4"/>
<circle cx="158" cy="545.7" r="1.35" fill="#222"/>
<circle cx="162.1" cy="545.7" r="1.35" fill="#222"/>
<circle cx="166.2" cy="545.7" r="1.35" fill="#222"/>
<line x1="101.6" y1="568.6" x2="224.1" y2="568.6" stroke="#151515" stroke-width="1.4"/>
<line x1="101.6" y1="564.9" x2="101.6" y2="572.3" stroke="#151515" stroke-width="1.4"/>
<line x1="224.1" y1="564.9" x2="224.1" y2="572.3" stroke="#151515" stroke-width="1.4"/>
<line x1="162.8" y1="564.8" x2="162.8" y2="572.4" stroke="#111" stroke-width="2.4"/>
<circle cx="131.9" cy="563.9" r="1.35" fill="#222"/>
<circle cx="189.3" cy="564.2" r="1.35" fill="#222"/>
<circle cx="193.4" cy="564.2" r="1.35" fill="#222"/>
<circle cx="197.5" cy="564.2" r="1.35" fill="#222"/>
<circle cx="98.1" cy="647.75" r="2.5" fill="#881236" stroke="#5c0522" stroke-width="0.8"/>
<circle cx="105.9" cy="648.1" r="2.5" fill="#881236" stroke="#5c0522" stroke-width="0.8"/>
<circle cx="94.6" cy="656.5" r="2.5" fill="#881236" stroke="#5c0522" stroke-width="0.8"/>
<circle cx="109.75" cy="656.9" r="2.5" fill="#881236" stroke="#5c0522" stroke-width="0.8"/>
<circle cx="102.1" cy="662.1" r="2.5" fill="#881236" stroke="#5c0522" stroke-width="0.8"/>
<line x1="81.5" y1="656.25" x2="123.5" y2="656.25" stroke="#111" stroke-width="1.6"/>
<rect x="159.4" y="580.6" width="5.0" height="5.0" fill="#2d4779" stroke="#17254f" stroke-width="0.5"/>
<rect x="155.6" y="603.75" width="5.0" height="5.0" fill="#2d4779" stroke="#17254f" stroke-width="0.5"/>
<rect x="163.1" y="601.5" width="5.0" height="5.0" fill="#2d4779" stroke="#17254f" stroke-width="0.5"/>
<rect x="159.4" y="628.75" width="5.0" height="5.0" fill="#2d4779" stroke="#17254f" stroke-width="0.5"/>
<rect x="159.4" y="636.25" width="5.0" height="5.0" fill="#2d4779" stroke="#17254f" stroke-width="0.5"/>
<line x1="141.9" y1="606" x2="183.75" y2="606" stroke="#111" stroke-width="1.6"/>
<path d="M207.5 675.35 L209.95 679.85 L205.05 679.85 Z" fill="#5f9c46" stroke="#3b6529" stroke-width="0.5"/>
<path d="M214.7 675.35 L217.15 679.85 L212.25 679.85 Z" fill="#5f9c46" stroke="#3b6529" stroke-width="0.5"/>
<path d="M221.9 675.35 L224.35 679.85 L219.45 679.85 Z" fill="#5f9c46" stroke="#3b6529" stroke-width="0.5"/>
<path d="M229.1 675.35 L231.55 679.85 L226.65 679.85 Z" fill="#5f9c46" stroke="#3b6529" stroke-width="0.5"/>
<path d="M236.3 675.35 L238.75 679.85 L233.85 679.85 Z" fill="#5f9c46" stroke="#3b6529" stroke-width="0.5"/>
<line x1="204" y1="677.7" x2="240" y2="677.7" stroke="#111" stroke-width="1.5" opacity="0.45"/>
<text x="265.2" y="554.2" font-size="14.0" font-weight="bold" textLength="9.1" lengthAdjust="spacingAndGlyphs" fill="#111" stroke="#111" stroke-width="0.1">H</text>
<line x1="312.3" y1="554.6" x2="312.3" y2="678.55" stroke="#1a1a1a" stroke-width="1.7"/>
<line x1="311.45" y1="677.7" x2="494.9" y2="677.7" stroke="#1a1a1a" stroke-width="1.7"/>
<line x1="308.8" y1="557.6" x2="312.3" y2="557.6" stroke="#1a1a1a" stroke-width="1.4"/>
<text x="306" y="561" font-size="9.4" text-anchor="end" fill="#303030" stroke="#303030" stroke-width="0.12" textLength="9.68" lengthAdjust="spacingAndGlyphs">50</text>
<line x1="308.8" y1="581.6" x2="312.3" y2="581.6" stroke="#1a1a1a" stroke-width="1.4"/>
<text x="306" y="585" font-size="9.4" text-anchor="end" fill="#303030" stroke="#303030" stroke-width="0.12" textLength="9.68" lengthAdjust="spacingAndGlyphs">40</text>
<line x1="308.8" y1="605.6" x2="312.3" y2="605.6" stroke="#1a1a1a" stroke-width="1.4"/>
<text x="306" y="609" font-size="9.4" text-anchor="end" fill="#303030" stroke="#303030" stroke-width="0.12" textLength="9.68" lengthAdjust="spacingAndGlyphs">30</text>
<line x1="308.8" y1="629.6" x2="312.3" y2="629.6" stroke="#1a1a1a" stroke-width="1.4"/>
<text x="306" y="633" font-size="9.4" text-anchor="end" fill="#303030" stroke="#303030" stroke-width="0.12" textLength="9.68" lengthAdjust="spacingAndGlyphs">20</text>
<line x1="308.8" y1="653.6" x2="312.3" y2="653.6" stroke="#1a1a1a" stroke-width="1.4"/>
<text x="306" y="657" font-size="9.4" text-anchor="end" fill="#303030" stroke="#303030" stroke-width="0.12" textLength="9.68" lengthAdjust="spacingAndGlyphs">10</text>
<line x1="308.8" y1="677.7" x2="312.3" y2="677.7" stroke="#1a1a1a" stroke-width="1.4"/>
<text x="306" y="681.1" font-size="9.4" text-anchor="end" fill="#303030" stroke="#303030" stroke-width="0.12" textLength="4.84" lengthAdjust="spacingAndGlyphs">0</text>
<line x1="334.6" y1="677.7" x2="334.6" y2="680.7" stroke="#1a1a1a" stroke-width="1.3"/>
<text x="334.6" y="691.8" font-size="8.7" text-anchor="middle" fill="#303030" stroke="#303030" stroke-width="0.12" >WT/WT</text>
<line x1="379.8" y1="677.7" x2="379.8" y2="680.7" stroke="#1a1a1a" stroke-width="1.3"/>
<text x="379.8" y="691.8" font-size="8.7" text-anchor="middle" fill="#303030" stroke="#303030" stroke-width="0.12" >WT/KO</text>
<line x1="425" y1="677.7" x2="425" y2="680.7" stroke="#1a1a1a" stroke-width="1.3"/>
<text x="425" y="691.8" font-size="8.7" text-anchor="middle" fill="#303030" stroke="#303030" stroke-width="0.12" >KO/WT</text>
<line x1="470.2" y1="677.7" x2="470.2" y2="680.7" stroke="#1a1a1a" stroke-width="1.3"/>
<text x="470.2" y="691.8" font-size="8.7" text-anchor="middle" fill="#303030" stroke="#303030" stroke-width="0.12" >KO/KO</text>
<text transform="translate(277.5 615.6) rotate(-90)" font-size="9.6" textLength="20.02" lengthAdjust="spacingAndGlyphs" text-anchor="middle" fill="#303030" stroke="#303030" stroke-width="0.12">Lung</text>
<text transform="translate(289.1 615.6) rotate(-90)" font-size="9.6" textLength="50.01" lengthAdjust="spacingAndGlyphs" text-anchor="middle" fill="#303030" stroke="#303030" stroke-width="0.12">MPO ng / ml</text>
<circle cx="330.8" cy="619.6" r="2.5" fill="#881236" stroke="#5c0522" stroke-width="0.8"/>
<circle cx="338.5" cy="623.8" r="2.5" fill="#881236" stroke="#5c0522" stroke-width="0.8"/>
<circle cx="327.3" cy="629.2" r="2.5" fill="#881236" stroke="#5c0522" stroke-width="0.8"/>
<circle cx="341.7" cy="632.5" r="2.5" fill="#881236" stroke="#5c0522" stroke-width="0.8"/>
<circle cx="334.6" cy="635.8" r="2.5" fill="#881236" stroke="#5c0522" stroke-width="0.8"/>
<line x1="319.2" y1="627.7" x2="350.4" y2="627.7" stroke="#111" stroke-width="1.6"/>
<rect x="377.3" y="579.4" width="5.0" height="5.0" fill="#2d4779" stroke="#17254f" stroke-width="0.5"/>
<rect x="380.8" y="591.15" width="5.0" height="5.0" fill="#2d4779" stroke="#17254f" stroke-width="0.5"/>
<rect x="373.85" y="597.7" width="5.0" height="5.0" fill="#2d4779" stroke="#17254f" stroke-width="0.5"/>
<rect x="377.3" y="605.4" width="5.0" height="5.0" fill="#2d4779" stroke="#17254f" stroke-width="0.5"/>
<rect x="377.3" y="629.6" width="5.0" height="5.0" fill="#2d4779" stroke="#17254f" stroke-width="0.5"/>
<line x1="364.8" y1="603.1" x2="395.2" y2="603.1" stroke="#111" stroke-width="1.6"/>
<path d="M425 592.55 L427.45 597.05 L422.55 597.05 Z" fill="#5f9c46" stroke="#3b6529" stroke-width="0.5"/>
<path d="M425 610.25 L427.45 614.75 L422.55 614.75 Z" fill="#5f9c46" stroke="#3b6529" stroke-width="0.5"/>
<path d="M417.7 630.45 L420.15 634.95 L415.25 634.95 Z" fill="#5f9c46" stroke="#3b6529" stroke-width="0.5"/>
<path d="M425 631.95 L427.45 636.45 L422.55 636.45 Z" fill="#5f9c46" stroke="#3b6529" stroke-width="0.5"/>
<path d="M432.1 631.05 L434.55 635.55 L429.65 635.55 Z" fill="#5f9c46" stroke="#3b6529" stroke-width="0.5"/>
<line x1="409.6" y1="621" x2="440.8" y2="621" stroke="#111" stroke-width="1.6"/>
<path d="M467.6 579.43 L472.8 579.43 L470.2 584.37 Z" fill="#2e1a3c" stroke="#2e1a3c" stroke-width="0.4"/>
<path d="M467.6 594.43 L472.8 594.43 L470.2 599.37 Z" fill="#2e1a3c" stroke="#2e1a3c" stroke-width="0.4"/>
<path d="M460.3 613.13 L465.5 613.13 L462.9 618.07 Z" fill="#2e1a3c" stroke="#2e1a3c" stroke-width="0.4"/>
<path d="M467.6 615.03 L472.8 615.03 L470.2 619.97 Z" fill="#2e1a3c" stroke="#2e1a3c" stroke-width="0.4"/>
<path d="M474.9 614.63 L480.1 614.63 L477.5 619.57 Z" fill="#2e1a3c" stroke="#2e1a3c" stroke-width="0.4"/>
<line x1="454.4" y1="606" x2="485.2" y2="606" stroke="#111" stroke-width="1.6"/>
<rect x="0" y="0" width="520" height="1.8" fill="#000"/>
<rect x="0" y="0" width="1.5" height="701" fill="#000"/>
<rect x="518.3" y="0" width="1.7" height="701" fill="#000"/>
<rect x="0" y="699" width="520" height="2" fill="#000"/>
</svg>
</body></html>
